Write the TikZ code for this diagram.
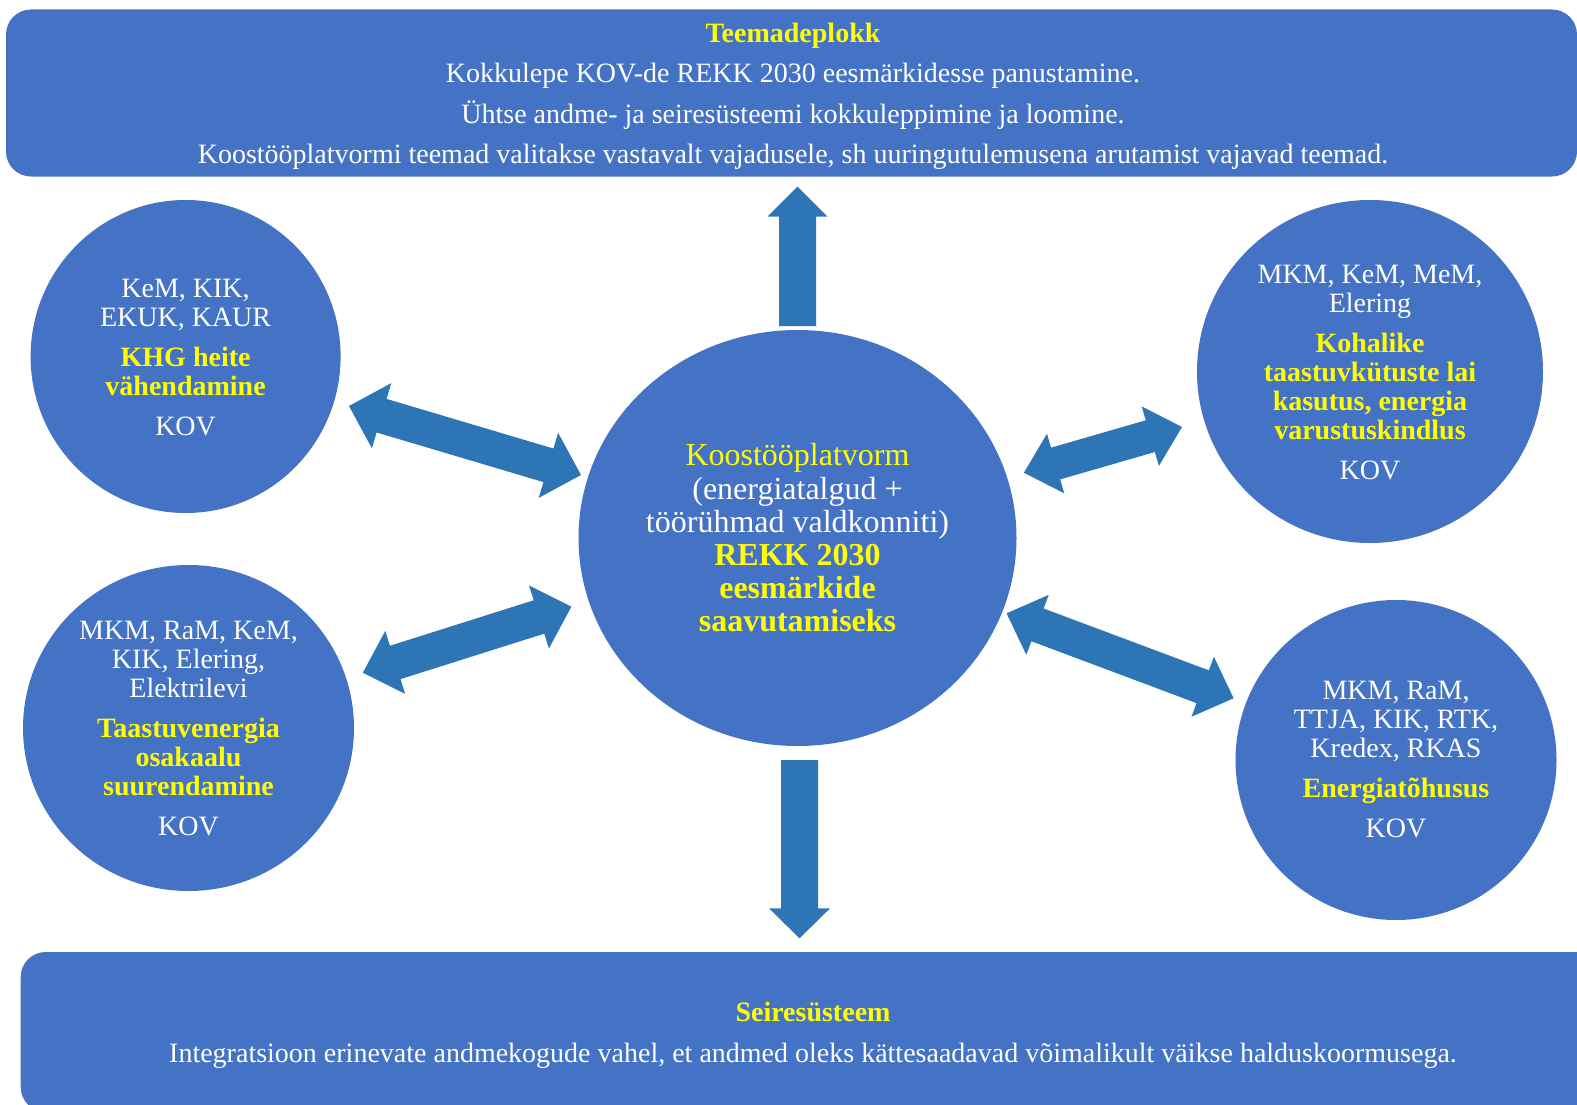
\documentclass[tikz,border=0pt]{standalone}
\usepackage{fontspec}
\setmainfont{Liberation Serif}
\usetikzlibrary{calc,shapes.geometric}
\definecolor{blobblue}{HTML}{4472C4}
\definecolor{arrblue}{HTML}{2E75B6}
\definecolor{yel}{HTML}{FFFF00}
\newcommand\ylw[1]{{\color{yel}#1}}
\newcommand\ybf[1]{{\bfseries\color{yel}#1}}
% double block arrow: #1 end A, #2 end B, #3 head length, #4 head half width, #5 shaft half width
\newcommand\dblarrow[5]{%
  \coordinate (#1-h) at ($(#1)!#3!(#2)$);
  \coordinate (#2-h) at ($(#2)!#3!(#1)$);
  \fill[arrblue] (#1) -- ($(#1-h)!#4!90:(#2)$) -- ($(#1-h)!#5!90:(#2)$)
    -- ($(#2-h)!#5!90:(#2)$) -- ($(#2-h)!#4!90:(#2)$) -- (#2)
    -- ($(#2-h)!#4!-90:(#2)$) -- ($(#2-h)!#5!-90:(#2)$)
    -- ($(#1-h)!#5!-90:(#2)$) -- ($(#1-h)!#4!-90:(#2)$) -- cycle;}
% single block arrow: #1 start, #2 tip
\newcommand\onearrow[5]{%
  \coordinate (#2-h) at ($(#2)!#3!(#1)$);
  \fill[arrblue] ($(#1)!#5!90:(#2)$) -- ($(#2-h)!#5!90:(#2)$) -- ($(#2-h)!#4!90:(#2)$)
    -- (#2) -- ($(#2-h)!#4!-90:(#2)$) -- ($(#2-h)!#5!-90:(#2)$) -- ($(#1)!#5!-90:(#2)$) -- cycle;}
\begin{document}
\begin{tikzpicture}[x=1pt,y=-1pt,
  blob/.style={ellipse, fill=blobblue, draw=none, inner sep=0pt},
  panel/.style={rectangle, rounded corners=25pt, fill=blobblue, draw=none, inner sep=0pt},
  ctext/.style={align=center, text=white, inner sep=0pt, font=\fontsize{28}{29}\selectfont},
  ptext/.style={align=center, text=white, inner sep=0pt, font=\fontsize{28}{40.5}\selectfont}]
\clip (0,0) rectangle (1577,1105);
\fill[white] (0,0) rectangle (1577,1105);

% panels
\node[panel, minimum width=1571pt, minimum height=167pt] (top) at (791.5,93) {};
\node[ptext] (toptext) at (793,96.5) {\ybf{Teemadeplokk}\\
  Kokkulepe KOV-de REKK 2030 eesmärkidesse panustamine.\\
  Ühtse andme- ja seiresüsteemi kokkuleppimine ja loomine.\\
  Koostööplatvormi teemad valitakse vastavalt vajadusele, sh uuringutulemusena arutamist vajavad teemad.};

\node[panel, minimum width=1584pt, minimum height=160pt] (bot) at (812.7,1032) {};
\node[ptext, font=\fontsize{28}{41}\selectfont] (bottext) at (813,1035.5) {\ybf{Seiresüsteem}\\
  Integratsioon erinevate andmekogude vahel, et andmed oleks kättesaadavad võimalikult väikse halduskoormusega.};

% circles
\node[blob, minimum width=438pt, minimum height=416pt] (ce) at (797.5,538) {};
\node[blob, minimum width=310pt, minimum height=313pt] (tl) at (185.6,356.5) {};
\node[blob, minimum width=331pt, minimum height=326pt] (bl) at (188.5,728) {};
\node[blob, minimum width=346pt, minimum height=343pt] (tr) at (1370,371.5) {};
\node[blob, minimum width=321pt, minimum height=320pt] (br) at (1396,760) {};

\node[ctext, font=\fontsize{32}{33.2}\selectfont] (cetext) at (ce) {\ylw{Koostööplatvorm}\\
  (energiatalgud +\\ töörühmad valdkonniti)\\
  \ybf{REKK 2030}\\ \ybf{eesmärkide}\\ \ybf{saavutamiseks}};
\node[ctext] (tltext) at ($(tl)+(0,1)$) {KeM, KIK,\\ EKUK, KAUR\\[11pt]
  \ybf{KHG heite}\\ \ybf{vähendamine}\\[11pt] KOV};
\node[ctext] (bltext) at ($(bl)+(0,1)$) {MKM, RaM, KeM,\\ KIK, Elering,\\ Elektrilevi\\[11pt]
  \ybf{Taastuvenergia}\\ \ybf{osakaalu}\\ \ybf{suurendamine}\\[11pt] KOV};
\node[ctext] (trtext) at ($(tr)+(0,1)$) {MKM, KeM, MeM,\\ Elering\\[11pt]
  \ybf{Kohalike}\\ \ybf{taastuvkütuste lai}\\ \ybf{kasutus, energia}\\ \ybf{varustuskindlus}\\[11pt] KOV};
\node[ctext] (brtext) at (br) {MKM, RaM,\\ TTJA, KIK, RTK,\\ Kredex, RKAS\\[11pt]
  \ybf{Energiatõhusus}\\[11pt] KOV};

% arrow end points
\coordinate (tlA) at (349,406);
\coordinate (tlB) at (581,475);
\coordinate (blA) at (362.8,672.7);
\coordinate (blB) at (571.4,606.7);
\coordinate (trA) at (1023.9,472.7);
\coordinate (trB) at (1182,427);
\coordinate (brA) at (1006.6,613.3);
\coordinate (brB) at (1233.6,698.3);
\coordinate (upS) at (797.5,326);
\coordinate (upT) at (797.5,186.7);
\coordinate (dnS) at (799.5,760);
\coordinate (dnT) at (799.5,938.3);

\dblarrow{tlA}{tlB}{34pt}{34pt}{17.5pt}
\dblarrow{blA}{blB}{34pt}{33pt}{17.5pt}
\dblarrow{trA}{trB}{33pt}{31pt}{16.5pt}
\dblarrow{brA}{brB}{33pt}{32pt}{17.5pt}
\onearrow{upS}{upT}{30pt}{30pt}{18.5pt}
\onearrow{dnS}{dnT}{30pt}{30.5pt}{18.5pt}
\end{tikzpicture}
\end{document}
